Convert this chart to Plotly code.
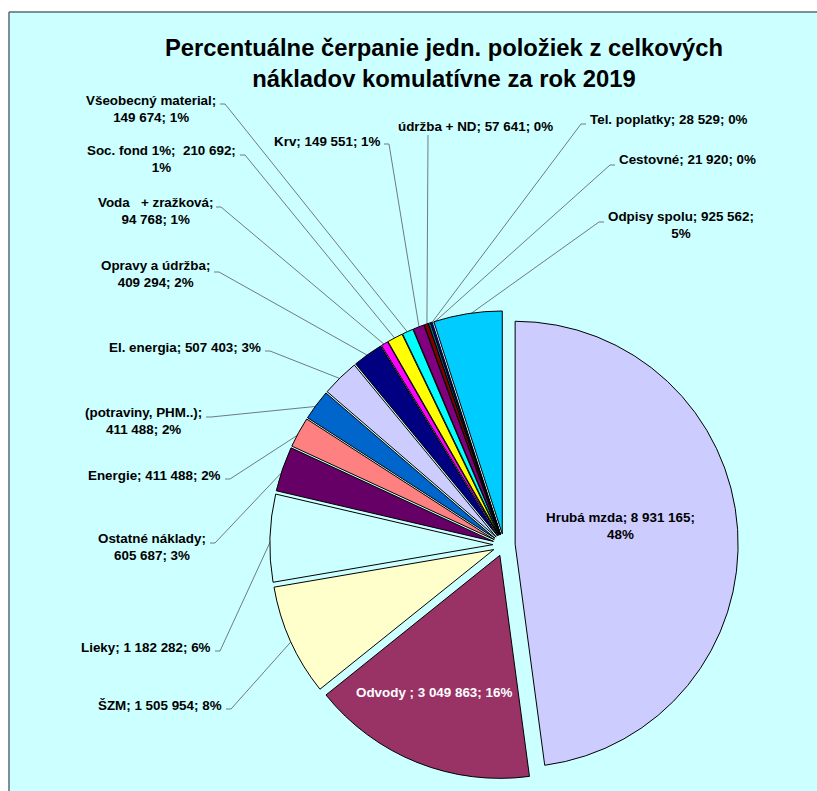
import math
import plotly.graph_objects as go

# ---------------- data ----------------
categories = ["Hrubá mzda", "Odvody ", "ŠZM", "Lieky", "Ostatné náklady", "Energie",
              "(potraviny, PHM..)", "El. energia", "Opravy a údržba",
              "Voda\u00a0\u00a0 + zražková", "Soc. fond 1%", "Všeobecný material", "Krv",
              "údržba + ND", "Tel. poplatky", "Cestovné", "Odpisy spolu"]
values = [8931165, 3049863, 1505954, 1182282, 605687, 411488,
          411488, 507403, 409294,
          94768, 210692, 149674, 149551,
          57641, 28529, 21920, 925562]
colors = ["#ccccff", "#993366", "#ffffcc", "#ccffff", "#660066", "#ff8080",
          "#0066cc", "#ccccff", "#000080", "#ff00ff", "#ffff00", "#00ffff",
          "#800080", "#800000", "#008080", "#0000ff", "#00ccff"]
title_text = "Percentuálne čerpanie jedn. položiek z celkových<br>nákladov komulatívne za rok 2019"

# ---------------- layout (pixels) ----------------
W, H = 817, 791
CX, CY, R, PULL = 504, 545, 223, 0.05
FONT = "Liberation Sans, Arial, sans-serif"

def fx(x):
    return x / W

def fy(y):
    return 1 - y / H

# per-slice label placement: (break, kind, text_x, text_y, xanchor, attach_x, attach_y, dash, color)
label_layout = [
    ("value", "in", 620, 526, "center", None, None, 0, "black"),
    ("none", "in", 434, 692, "center", None, None, 0, "white"),
    ("none", "out", 224, 705, "right", 226, 709, 5, "black"),
    ("none", "out", 213, 647, "right", 215, 651, 5, "black"),
    ("name", "out", 208, 546.5, "right", 210, 543, 5, "black"),
    ("none", "out", 223, 475, "right", 225, 479, 5, "black"),
    ("name", "out", 204, 420.5, "right", 206, 417, 5, "black"),
    ("none", "out", 263, 347, "right", 265, 351, 5, "black"),
    ("name", "out", 212, 274, "right", 214, 272, 5, "black"),
    ("name", "out", 215, 210.5, "right", 216, 207, 5, "black"),
    ("value", "out", 238, 158.5, "right", 240, 155, 5, "black"),
    ("name", "out", 218, 109, "right", 220, 104, 5, "black"),
    ("none", "out", 383, 141, "right", 384, 144, 5, "black"),
    ("none", "out", 475, 127, "center", 428, 135, 0, "black"),
    ("none", "out", 588, 120, "left", 586, 124, -5, "black"),
    ("none", "out", 617, 160, "left", 615, 165, -5, "black"),
    ("value", "out", 606, 225, "left", 604, 222, -5, "black"),
]

total = sum(values)

def fmt(v):
    return f"{v:,}".replace(",", "\u00a0")

half = R * (1 + PULL)
fig = go.Figure(go.Pie(
    labels=categories, values=values, sort=False, direction="clockwise", rotation=0,
    pull=[PULL] * len(values),
    marker=dict(colors=colors, line=dict(color="black", width=1)),
    textinfo="none", hoverinfo="label+value+percent", showlegend=False,
    domain=dict(x=[fx(CX - half), fx(CX + half)], y=[fy(CY + half), fy(CY - half)]),
))

border = dict(color="#5a6a70", width=1.5)
shapes = [
    dict(type="rect", xref="paper", yref="paper", x0=-0.01, y0=-0.01, x1=fx(9), y1=1.01,
         line=dict(width=0), fillcolor="white", layer="below"),
    dict(type="rect", xref="paper", yref="paper", x0=-0.01, y0=fy(12), x1=1.01, y1=1.01,
         line=dict(width=0), fillcolor="white", layer="below"),
    dict(type="line", xref="paper", yref="paper", x0=fx(9), y0=fy(12), x1=fx(9), y1=-0.01,
         line=border, layer="below"),
    dict(type="line", xref="paper", yref="paper", x0=fx(9), y0=fy(12), x1=1.01, y1=fy(12),
         line=border, layer="below"),
]
annotations = []
cum = 0.0
for cat, v, lay in zip(categories, values, label_layout):
    brk, kind, tx, ty, xa, ax, ay, dash, col = lay
    frac = v / total
    mid = (cum + frac / 2) * 2 * math.pi
    cum += frac
    pct = f"{round(frac * 100)}%"
    if brk == "name":
        txt = f"{cat};<br>{fmt(v)}; {pct}"
    elif brk == "value":
        txt = f"{cat}; {fmt(v)};<br>{pct}"
    else:
        txt = f"{cat}; {fmt(v)}; {pct}"
    if cat == "Soc. fond 1%":
        txt = txt.replace("1%; ", "1%;\u00a0 ", 1)
    annotations.append(dict(text=f"<b>{txt}</b>", x=fx(tx), y=fy(ty), xref="paper", yref="paper",
                            xanchor=xa, yanchor="middle", align="center", showarrow=False,
                            font=dict(family=FONT, size=13.4, color=col)))
    if kind == "out":
        rx = CX + (R * (1 + PULL) - 2) * math.sin(mid)
        ry = CY - (R * (1 + PULL) - 2) * math.cos(mid)
        path = f"M {fx(ax)} {fy(ay)} L {fx(ax + dash)} {fy(ay)} L {fx(rx)} {fy(ry)}"
        shapes.append(dict(type="path", xref="paper", yref="paper", path=path,
                           line=dict(color="#6e7b80", width=1), layer="below"))

fig.update_layout(
    width=W, height=H, margin=dict(l=0, r=0, t=0, b=0),
    paper_bgcolor="#ccffff", plot_bgcolor="#ccffff",
    title=dict(text=f"<b>{title_text}</b>", x=fx(444), xanchor="center", xref="paper",
               y=fy(56), yanchor="middle", yref="container",
               font=dict(family=FONT, size=23.8, color="black")),
    shapes=shapes, annotations=annotations,
)
fig.write_html("out.html", config={"displayModeBar": False},
               post_script=("document.body.style.margin='0px';"
                            "document.body.style.overflow='hidden';"
                            "document.documentElement.style.overflow='hidden';"))
